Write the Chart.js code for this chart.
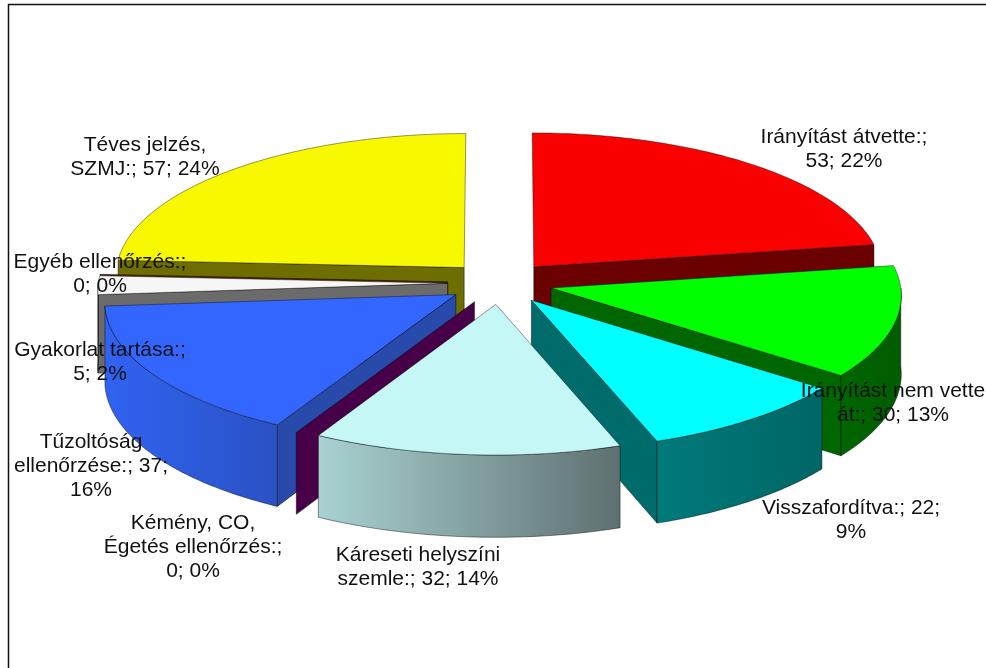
<!DOCTYPE html>
<html>
<head>
<meta charset="utf-8">
<title>Pie</title>
<script src="https://cdn.jsdelivr.net/npm/chart.js@4/dist/chart.umd.min.js"></script>
<style>
    html, body { margin: 0; padding: 0; background: #fff; overflow: hidden; }
    canvas { display: block; filter: blur(0.35px); }
</style>
</head>
<body>
<canvas id="pieChart" width="986" height="668"></canvas>
<script>
const categories = ['Irányítást átvette:', 'Irányítást nem vette át:', 'Visszafordítva:', 'Káreseti helyszíni szemle:',
    'Kémény, CO, Égetés ellenőrzés:', 'Tűzoltóság ellenőrzése:', 'Gyakorlat tartása:', 'Egyéb ellenőrzés:', 'Téves jelzés, SZMJ:'];
const values = [53, 30, 22, 32, 0, 37, 5, 0, 57];
const percents = [22, 13, 9, 14, 0, 16, 2, 0, 24];

// how each data label wraps on screen
const labelLines = [
    ['Irányítást átvette:;', '53; 22%'],
    ['Irányítást nem vette', 'át:; 30; 13%'],
    ['Visszafordítva:; 22;', '9%'],
    ['Káreseti helyszíni', 'szemle:; 32; 14%'],
    ['Kémény, CO,', 'Égetés ellenőrzés:;', '0; 0%'],
    ['Tűzoltóság', 'ellenőrzése:; 37;', '16%'],
    ['Gyakorlat tartása:;', '5; 2%'],
    ['Egyéb ellenőrzés:;', '0; 0%'],
    ['Téves jelzés,', 'SZMJ:; 57; 24%']
];
const labelAnchors = [[844, 137], [893, 391], [851, 508], [418, 555], [193, 523], [91, 442], [100, 350], [100, 262], [145, 145]];

const topColors = ['#fa0000', '#00ff00', '#00ffff', '#c6f7f7', '#470047', '#3366ff', '#f6f6f6', '#5a2a10', '#f8f800'];
const sideColors = ['#6b0000', '#006600', '#006b6b', '#6b7f7f', '#470047', '#284bab', '#6b6b6b', '#5a2a10', '#6e6e00'];
const rimGradients = [
    ['#6b0000', '#6b0000'], ['#006600', '#005c00'], ['#007a7a', '#006666'], ['#a9d2d2', '#5f7070'],
    ['#470047', '#470047'], ['#3163f2', '#2a52c4'], ['#6b6b6b', '#6b6b6b'], ['#5a2a10', '#5a2a10'], ['#6e6e00', '#6e6e00']
];

// tilted 3D look, as ratios of the pie radius chart.js computes
const explode = 0.15;
const perspective = 0.0464;
const squashX = 1.234;
const squashY = 0.502;
const thickness = 0.276;

const pie3d = {
    id: 'pie3d',
    beforeDraw(chart) {
        const ctx = chart.ctx;
        ctx.save();
        ctx.fillStyle = '#fff';
        ctx.fillRect(0, 0, chart.width, chart.height);
        // only the top and left edges of the frame are in the picture
        ctx.strokeStyle = '#111';
        ctx.lineWidth = 1.5;
        ctx.beginPath();
        ctx.moveTo(8.5, chart.height);
        ctx.lineTo(8.5, 4.5);
        ctx.lineTo(chart.width, 4.5);
        ctx.stroke();
        ctx.restore();
    },
    beforeDatasetDraw(chart, args) {
        const ctx = chart.ctx;
        const arcs = args.meta.data;
        const slices = arcs.map((arc, i) => {
            const a1 = arc.startAngle + Math.PI / 2;
            const a2 = arc.endAngle + Math.PI / 2;
            return { i, a1, a2, mid: (a1 + a2) / 2, arc };
        });
        // back to front
        slices.sort((a, b) => -Math.cos(a.mid) + Math.cos(b.mid));

        slices.forEach(s => {
            const rx = s.arc.outerRadius * squashX;
            const ry = s.arc.outerRadius * squashY;
            const ox = Math.sin(s.mid) * explode;
            const oy = -Math.cos(s.mid) * explode;
            const project = (X, Y, low) => {
                const k = 1 + perspective * Y;
                return [s.arc.x + rx * X * k, s.arc.y + ry * Y * k + (low ? s.arc.outerRadius * thickness * k : 0)];
            };
            const rimPoint = (a, low) => project(Math.sin(a) + ox, -Math.cos(a) + oy, low);
            const apex = low => project(ox, oy, low);

            const trace = pts => {
                ctx.beginPath();
                pts.forEach((p, n) => (n ? ctx.lineTo(p[0], p[1]) : ctx.moveTo(p[0], p[1])));
                ctx.closePath();
            };
            const paint = (pts, fill, line) => {
                trace(pts);
                ctx.fillStyle = fill;
                ctx.fill();
                ctx.strokeStyle = line;
                ctx.lineWidth = 0.8;
                ctx.stroke();
            };

            // radial walls, only the ones turned to the viewer
            if (Math.sin(s.a1) < 0) {
                paint([apex(false), rimPoint(s.a1, false), rimPoint(s.a1, true), apex(true)], sideColors[s.i], 'rgba(0,0,0,0.6)');
            }
            if (Math.sin(s.a2) > 0) {
                paint([apex(false), rimPoint(s.a2, false), rimPoint(s.a2, true), apex(true)], sideColors[s.i], 'rgba(0,0,0,0.6)');
            }

            // outer wall, front half of the circle only
            const from = Math.max(s.a1, Math.PI / 2);
            const to = Math.min(s.a2, Math.PI * 1.5);
            if (to > from) {
                const upper = [];
                const lower = [];
                for (let n = 0; n <= 60; n++) {
                    const a = from + (to - from) * n / 60;
                    upper.push(rimPoint(a, false));
                    lower.unshift(rimPoint(a, true));
                }
                const xs = upper.map(p => p[0]);
                const grad = ctx.createLinearGradient(Math.min(...xs), 0, Math.max(...xs), 0);
                grad.addColorStop(0, rimGradients[s.i][0]);
                grad.addColorStop(1, rimGradients[s.i][1]);
                paint(upper.concat(lower), grad, 'rgba(0,0,0,0.55)');
            }

            // top face
            if (s.a2 > s.a1) {
                const face = [apex(false)];
                for (let n = 0; n <= 80; n++) {
                    face.push(rimPoint(s.a1 + (s.a2 - s.a1) * n / 80, false));
                }
                paint(face, topColors[s.i], 'rgba(0,0,0,0.5)');
            }
        });
        return false; // the flat arcs are replaced by the drawing above
    },
    afterDatasetsDraw(chart) {
        const ctx = chart.ctx;
        ctx.save();
        ctx.font = '21px "Liberation Sans", Arial, sans-serif';
        ctx.fillStyle = '#111';
        ctx.textAlign = 'center';
        ctx.textBaseline = 'middle';
        labelLines.forEach((lines, i) => {
            lines.forEach((line, n) => {
                ctx.fillText(line, labelAnchors[i][0], labelAnchors[i][1] + n * 24);
            });
        });
        ctx.restore();
    }
};

new Chart(document.getElementById('pieChart'), {
    type: 'pie',
    data: {
        labels: categories,
        datasets: [{
            data: values,
            backgroundColor: topColors,
            borderWidth: 0,
            hoverOffset: 0
        }]
    },
    options: {
        responsive: false,
        animation: false,
        layout: { padding: { left: 14, bottom: 102 } },
        plugins: {
            legend: { display: false },
            tooltip: { enabled: false }
        }
    },
    plugins: [pie3d]
});
</script>
</body>
</html>
